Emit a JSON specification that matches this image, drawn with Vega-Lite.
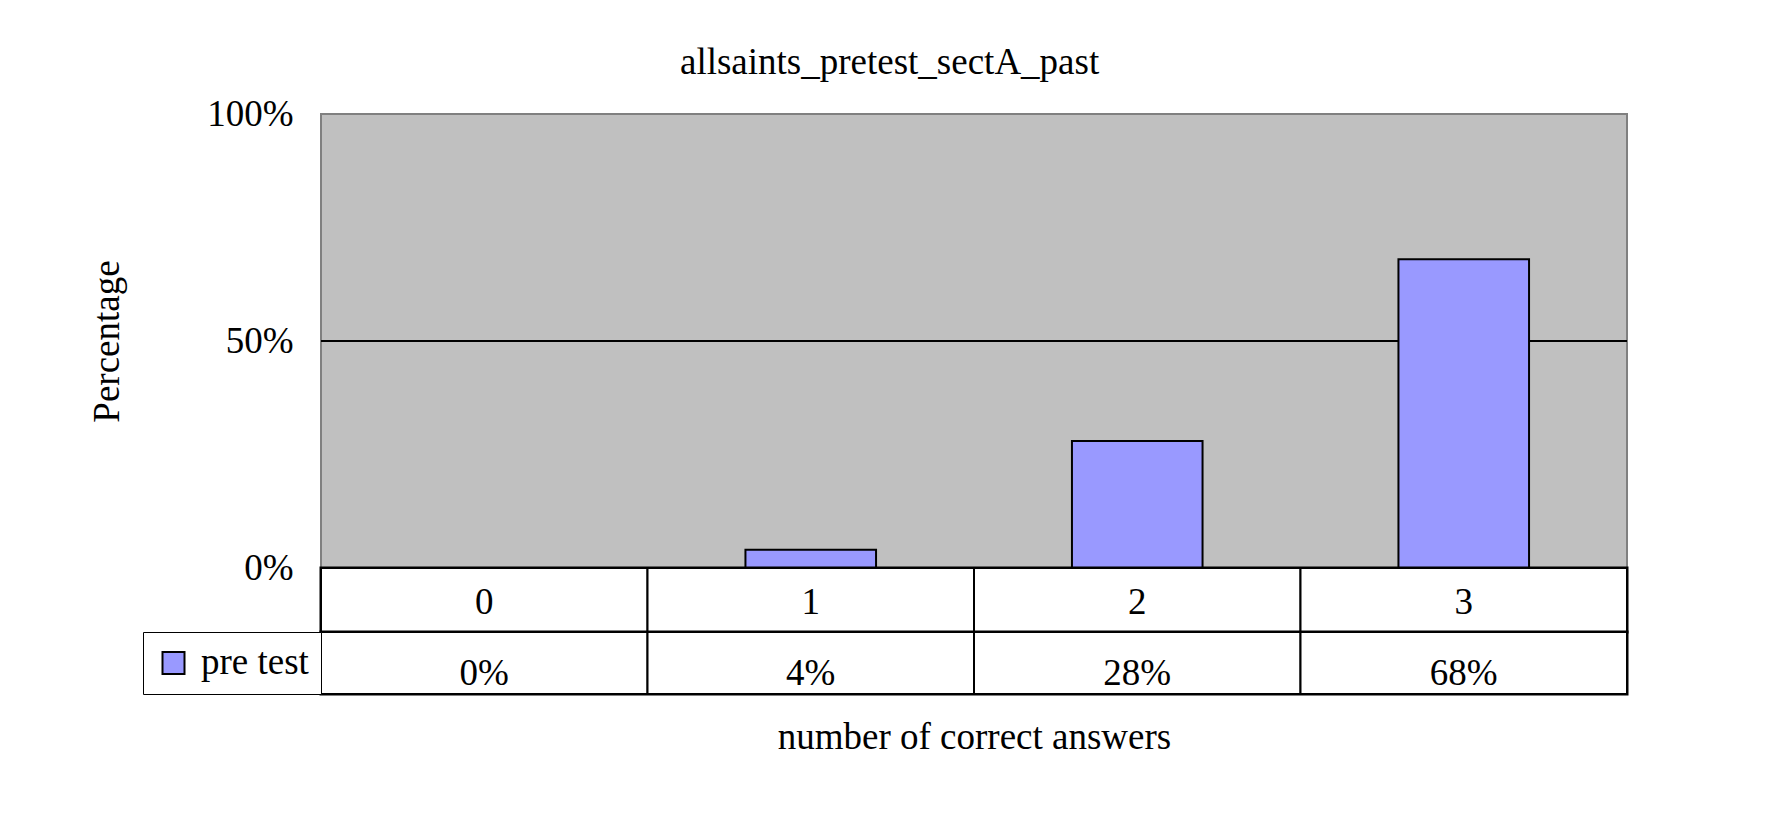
{
  "$schema": "https://vega.github.io/schema/vega-lite/v6.json",
  "background": "white",
  "padding": {"left": 87, "top": 44, "right": 20, "bottom": 20},
  "title": {
    "text": "allsaints_pretest_sectA_past",
    "font": "Liberation Serif",
    "fontSize": 37,
    "fontWeight": "normal",
    "color": "black",
    "anchor": "middle",
    "frame": "bounds",
    "dx": 31,
    "offset": 12
  },
  "data": {
    "values": [
      {"answers": "0", "pct": 0.0},
      {"answers": "1", "pct": 0.04},
      {"answers": "2", "pct": 0.28},
      {"answers": "3", "pct": 0.68}
    ]
  },
  "bounds": "flush",
  "spacing": 0,
  "resolve": {
    "scale": {"x": "independent", "y": "independent", "color": "independent"},
    "legend": {"color": "independent"}
  },
  "vconcat": [
    {
      "width": 1306,
      "height": 454,
      "view": {"fill": "#C0C0C0", "stroke": "#808080", "strokeWidth": 2},
      "encoding": {
        "x": {
          "field": "answers",
          "type": "nominal",
          "scale": {"paddingInner": 0.6, "paddingOuter": 0.3},
          "axis": null
        }
      },
      "layer": [
        {
          "mark": {"type": "rule", "color": "black", "strokeWidth": 2},
          "encoding": {"x": null, "y": {"datum": 0.5, "type": "quantitative"}}
        },
        {
          "mark": {"type": "bar", "fill": "#9999FF", "stroke": "black", "strokeWidth": 2},
          "encoding": {
            "y": {
              "field": "pct",
              "type": "quantitative",
              "scale": {"domain": [0, 1]},
              "axis": {
                "values": [0, 0.5, 1],
                "format": ".0%",
                "labelFont": "Liberation Serif",
                "labelFontSize": 37,
                "labelColor": "black",
                "labelPadding": 28,
                "ticks": false,
                "domain": false,
                "grid": false,
                "title": "Percentage",
                "titleFont": "Liberation Serif",
                "titleFontSize": 37,
                "titleFontWeight": "normal",
                "titleColor": "black",
                "titlePadding": 80
              }
            }
          }
        }
      ]
    },
    {
      "width": 1306,
      "height": 64,
      "view": {"fill": "white", "stroke": "black", "strokeWidth": 3},
      "encoding": {
        "x": {
          "field": "answers",
          "type": "nominal",
          "scale": {"paddingInner": 0, "paddingOuter": 0},
          "axis": null
        },
        "y": {
          "datum": "row",
          "type": "nominal",
          "scale": {"paddingInner": 0, "paddingOuter": 0},
          "axis": null
        }
      },
      "layer": [
        {"mark": {"type": "rect", "fill": "white", "stroke": "black", "strokeWidth": 2}},
        {
          "mark": {"type": "text", "font": "Liberation Serif", "fontSize": 37, "color": "black", "baseline": "middle", "dy": 3},
          "encoding": {"text": {"field": "answers"}}
        }
      ]
    },
    {
      "width": 1306,
      "height": 62,
      "view": {"fill": "white", "stroke": "black", "strokeWidth": 3},
      "encoding": {
        "x": {
          "field": "answers",
          "type": "nominal",
          "scale": {"paddingInner": 0, "paddingOuter": 0},
          "axis": {
            "orient": "bottom",
            "labels": false,
            "ticks": false,
            "domain": false,
            "grid": false,
            "title": "number of correct answers",
            "titleFont": "Liberation Serif",
            "titleFontSize": 37,
            "titleFontWeight": "normal",
            "titleColor": "black",
            "titlePadding": 25
          }
        },
        "y": {
          "datum": "row",
          "type": "nominal",
          "scale": {"paddingInner": 0, "paddingOuter": 0},
          "axis": null
        }
      },
      "layer": [
        {"mark": {"type": "rect", "fill": "white", "stroke": "black", "strokeWidth": 2}},
        {
          "mark": {"type": "text", "font": "Liberation Serif", "fontSize": 37, "color": "black", "baseline": "middle", "dy": 11},
          "encoding": {"text": {"field": "pct", "type": "quantitative", "format": ".0%"}}
        },
        {
          "mark": {"type": "square", "opacity": 0},
          "encoding": {
            "color": {
              "datum": "pre test",
              "type": "nominal",
              "scale": {"range": ["#9999FF"]},
              "legend": {
                "orient": "left",
                "offset": 0,
                "title": null,
                "padding": 12,
                "clipHeight": 38,
                "strokeColor": "black",
                "fillColor": "white",
                "symbolType": "square",
                "symbolSize": 484,
                "symbolStrokeColor": "black",
                "symbolStrokeWidth": 2,
                "symbolOpacity": 1,
                "labelFont": "Liberation Serif",
                "labelFontSize": 37,
                "labelColor": "black",
                "labelOffset": 9,
                "labelBaseline": "middle"
              }
            }
          }
        }
      ]
    }
  ]
}
